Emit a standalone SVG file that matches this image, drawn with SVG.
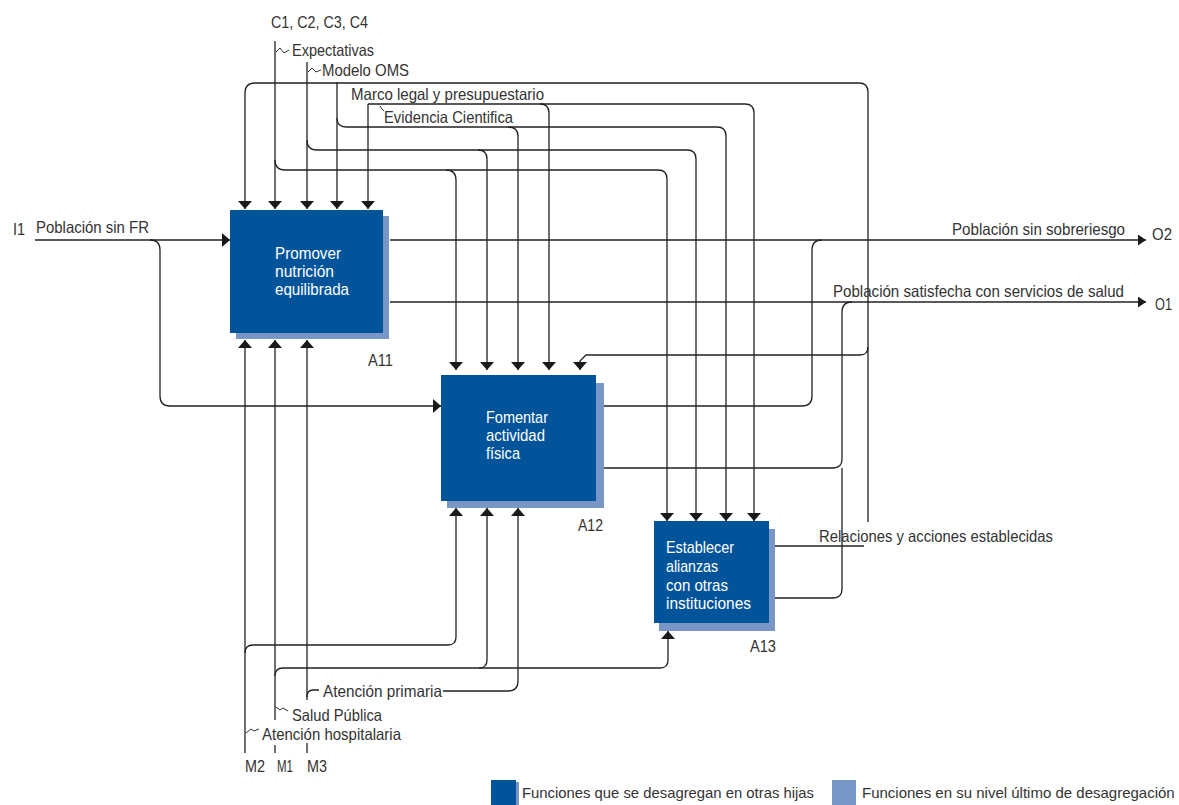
<svg xmlns="http://www.w3.org/2000/svg" width="1179" height="805" viewBox="0 0 1179 805">
<style>
.t{font-family:"Liberation Sans",Arial,sans-serif;font-size:16.5px;fill:#333;}
.lg{font-family:"Liberation Sans",Arial,sans-serif;font-size:15px;fill:#333;}
.b{font-family:"Liberation Sans",Arial,sans-serif;font-size:17px;fill:#fff;}
.dk{fill:#02549a;}
.lt{fill:#7896c6;}
.c{fill:none;stroke:#222;stroke-width:1.3;}
.sq{fill:none;stroke:#333;stroke-width:1;}
</style>
<defs>
<marker id="ah" viewBox="0 0 8 14" refX="8" refY="7" markerWidth="8" markerHeight="14" markerUnits="userSpaceOnUse" orient="auto">
<path d="M0,0 L8,7 L0,14 z" fill="#1a1a1a"/>
</marker>
<marker id="ahs" viewBox="0 0 8 11" refX="8" refY="5.5" markerWidth="8" markerHeight="11" markerUnits="userSpaceOnUse" orient="auto">
<path d="M0,0 L8,5.5 L0,11 z" fill="#1a1a1a"/>
</marker>
</defs>
<rect width="1179" height="805" fill="#fff"/>

<g id="connectors">
<!-- I1 -->
<path class="c" d="M35,240 H230" marker-end="url(#ah)"/>
<path class="c" d="M150,240 Q160,240 160,250 V396 Q160,406 170,406 H441" marker-end="url(#ah)"/>
<!-- C1 Expectativas -->
<path class="c" d="M275,41 V209" marker-end="url(#ah)"/>
<path class="c" d="M275,160 Q275,170 285,170 H658 Q667,170 667,179 V521" marker-end="url(#ah)"/>
<path class="c" d="M446,170 Q456,170 456,180 V370" marker-end="url(#ah)"/>
<!-- C2 Modelo OMS -->
<path class="c" d="M307,62 V209" marker-end="url(#ah)"/>
<path class="c" d="M307,140 Q307,150 317,150 H687 Q696,150 696,159 V521" marker-end="url(#ah)"/>
<path class="c" d="M478,150 Q487,150 487,159 V370" marker-end="url(#ah)"/>
<!-- C3 Marco legal -->
<path class="c" d="M337,82 V209" marker-end="url(#ah)"/>
<path class="c" d="M337,118 Q337,127 346,127 H717 Q726,127 726,136 V521" marker-end="url(#ah)"/>
<path class="c" d="M508,127 Q518,127 518,136 V370" marker-end="url(#ah)"/>
<!-- C4 Evidencia -->
<path class="c" d="M368,104 V209" marker-end="url(#ah)"/>
<path class="c" d="M368,104 H745 Q754,104 754,113 V521" marker-end="url(#ah)"/>
<path class="c" d="M540,104 Q549,104 549,113 V370" marker-end="url(#ah)"/>
<!-- Feedback: Relaciones y acciones establecidas -->
<path class="c" d="M775,546 H864"/>
<path class="c" d="M868,522 V92 Q868,83 859,83 H255 Q245,83 245,93 V209" marker-end="url(#ah)"/>
<path class="c" d="M868,347 Q868,355 860,355 H586 L580,361 V370" marker-end="url(#ah)"/>
<!-- Outputs -->
<path class="c" d="M390,240 H1146" marker-end="url(#ahs)"/>
<path class="c" d="M604,406 H802 Q812,406 812,396 V250 Q812,240 822,240"/>
<path class="c" d="M390,302 H1146" marker-end="url(#ahs)"/>
<path class="c" d="M604,468 H833 Q842,468 842,459 V312 Q842,302 852,302"/>
<path class="c" d="M775,598 H833 Q842,598 842,589 V468"/>
<!-- Mechanisms -->
<path class="c" d="M245,753 V340" marker-end="url(#ah)"/>
<path class="c" d="M245,653 Q245,645 253,645 H448 Q456,645 456,637 V508" marker-end="url(#ah)"/>
<path class="c" d="M275,720 V340" marker-end="url(#ah)"/>
<path class="c" d="M275,745 V753"/>
<path class="c" d="M275,676 Q275,668 283,668 H660 Q668,668 668,660 V631" marker-end="url(#ah)"/>
<path class="c" d="M479,668 Q487,668 487,660 V508" marker-end="url(#ah)"/>
<path class="c" d="M307,700 V340" marker-end="url(#ah)"/>
<path class="c" d="M307,743 V753"/>
<path class="c" d="M307,697 Q307,690 313,690 H319"/>
<path class="c" d="M443,691 H508 Q518,691 518,681 V508" marker-end="url(#ah)"/>
<!-- squiggles -->
<path class="sq" d="M276,52 l4,-4 l4,5 l5,-3"/>
<path class="sq" d="M308,72 l4,-4 l4,4 l5,-2"/>
<path class="sq" d="M380,106 l2,3 l2,2"/>
<path class="sq" d="M276,707 l4,3 l3,-2 l5,3"/>
<path class="sq" d="M246,733 l5,-4 l3,2 l5,-2"/>
</g>

<g id="labels">
<text class="t" x="271" y="28" textLength="97" lengthAdjust="spacingAndGlyphs">C1, C2, C3, C4</text>
<text class="t" x="292" y="56" textLength="82" lengthAdjust="spacingAndGlyphs">Expectativas</text>
<text class="t" x="322" y="76" textLength="87" lengthAdjust="spacingAndGlyphs">Modelo OMS</text>
<text class="t" x="351" y="100" textLength="193" lengthAdjust="spacingAndGlyphs">Marco legal y presupuestario</text>
<text class="t" x="384" y="123" textLength="129" lengthAdjust="spacingAndGlyphs">Evidencia Cientifica</text>
<text class="t" x="13" y="235" textLength="12" lengthAdjust="spacingAndGlyphs">I1</text>
<text class="t" x="36" y="233" textLength="113" lengthAdjust="spacingAndGlyphs">Población sin FR</text>
<text class="t" x="952" y="235" textLength="173" lengthAdjust="spacingAndGlyphs">Población sin sobreriesgo</text>
<text class="t" x="1152" y="240" textLength="20" lengthAdjust="spacingAndGlyphs">O2</text>
<text class="t" x="833" y="297" textLength="291" lengthAdjust="spacingAndGlyphs">Población satisfecha con servicios de salud</text>
<text class="t" x="1155" y="310" textLength="17" lengthAdjust="spacingAndGlyphs">O1</text>
<text class="t" x="819" y="542" textLength="234" lengthAdjust="spacingAndGlyphs">Relaciones y acciones establecidas</text>
<text class="t" x="323" y="697" textLength="119" lengthAdjust="spacingAndGlyphs">Atención primaria</text>
<text class="t" x="292" y="721" textLength="90" lengthAdjust="spacingAndGlyphs">Salud Pública</text>
<text class="t" x="262" y="740" textLength="139" lengthAdjust="spacingAndGlyphs">Atención hospitalaria</text>
<text class="t" x="245" y="772" textLength="20" lengthAdjust="spacingAndGlyphs">M2</text>
<text class="t" x="277" y="772" textLength="16" lengthAdjust="spacingAndGlyphs">M1</text>
<text class="t" x="307" y="772" textLength="20" lengthAdjust="spacingAndGlyphs">M3</text>
</g>

<g id="A11">
<rect class="lt" x="236" y="216" width="153" height="123"/>
<rect class="dk" x="230" y="210" width="153" height="123"/>
<text class="b" x="275" y="259" textLength="66" lengthAdjust="spacingAndGlyphs">Promover</text>
<text class="b" x="275" y="277" textLength="59" lengthAdjust="spacingAndGlyphs">nutrición</text>
<text class="b" x="275" y="295" textLength="74" lengthAdjust="spacingAndGlyphs">equilibrada</text>
<text class="t" x="368" y="366" textLength="25" lengthAdjust="spacingAndGlyphs">A11</text>
</g>

<g id="A12">
<rect class="lt" x="447" y="383" width="157" height="125"/>
<rect class="dk" x="441" y="375" width="155" height="126"/>
<text class="b" x="486" y="423" textLength="62" lengthAdjust="spacingAndGlyphs">Fomentar</text>
<text class="b" x="486" y="441" textLength="59" lengthAdjust="spacingAndGlyphs">actividad</text>
<text class="b" x="486" y="459" textLength="34" lengthAdjust="spacingAndGlyphs">física</text>
<text class="t" x="578" y="531" textLength="25" lengthAdjust="spacingAndGlyphs">A12</text>
</g>

<g id="A13">
<rect class="lt" x="659" y="529" width="116" height="102"/>
<rect class="dk" x="654" y="521" width="115" height="102"/>
<text class="b" x="666" y="553" textLength="68" lengthAdjust="spacingAndGlyphs">Establecer</text>
<text class="b" x="666" y="572" textLength="52" lengthAdjust="spacingAndGlyphs">alianzas</text>
<text class="b" x="666" y="591" textLength="62" lengthAdjust="spacingAndGlyphs">con otras</text>
<text class="b" x="666" y="609" textLength="85" lengthAdjust="spacingAndGlyphs">instituciones</text>
<text class="t" x="750" y="652" textLength="26" lengthAdjust="spacingAndGlyphs">A13</text>
</g>

<g id="legend">
<rect class="lt" x="494" y="782" width="25" height="23"/>
<rect class="dk" x="491" y="780" width="25" height="25"/>
<text class="lg" x="522" y="798" textLength="292" lengthAdjust="spacingAndGlyphs">Funciones que se desagregan en otras hijas</text>
<rect class="lt" x="832" y="780" width="24" height="25"/>
<text class="lg" x="862" y="798">Funciones en su nivel último de desagregación</text>
</g>
</svg>
